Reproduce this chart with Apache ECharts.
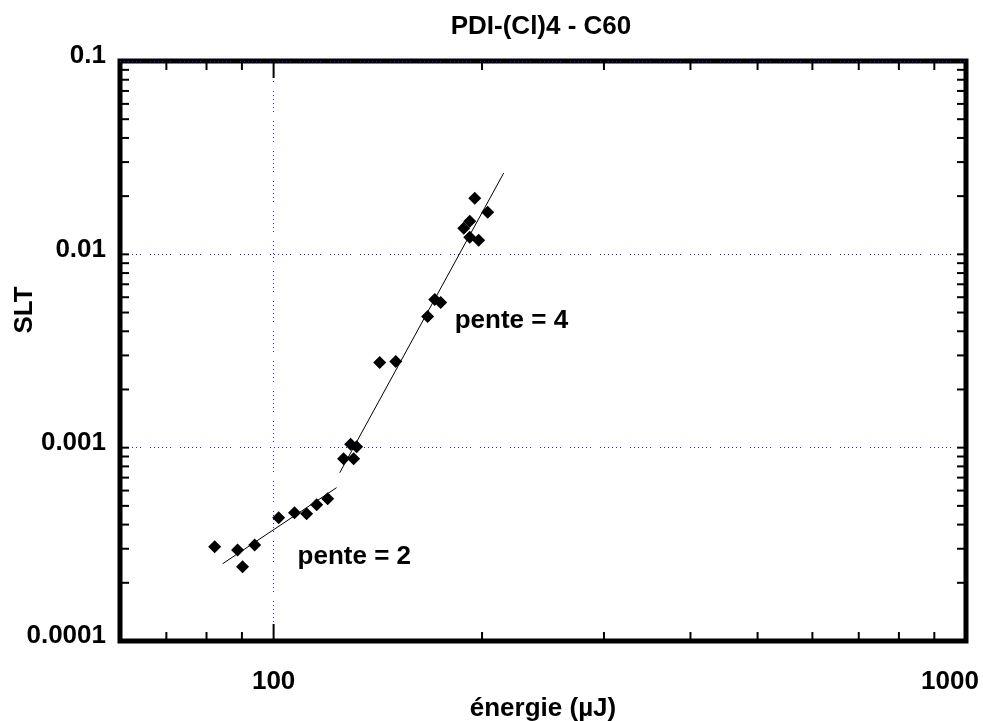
<!DOCTYPE html>
<html>
<head>
<meta charset="utf-8">
<script src="https://cdn.jsdelivr.net/npm/echarts@6/dist/echarts.min.js"></script>
<style>
html,body{margin:0;padding:0;background:#fff;}
#chart{width:983px;height:721px;}
</style>
</head>
<body>
<div id="chart"></div>
<script>
// ---- data ----
const energy = [82.2, 88.7, 90.2, 93.9, 101.7, 107.2, 111.6, 115.4, 119.7, 126.2, 129.2, 130.5, 131.8,
                142.3, 150.1, 166.9, 170.9, 174.3, 188.2, 192.0, 192.0, 197.8, 195.2, 203.8];
const slt = [0.000307, 0.000296, 0.000242, 0.000314, 0.000434, 0.000461, 0.000455, 0.000507, 0.000544, 0.000877, 0.00104, 0.000877, 0.00101,
             0.00276, 0.00279, 0.00477, 0.00584, 0.00564, 0.01364, 0.01483, 0.01225, 0.01182, 0.0195, 0.0165];
const fit2X = [84.4, 123.3];
const fit2Y = [0.000251, 0.000621];
const fit4X = [124.6, 214.9];
const fit4Y = [0.000742, 0.0263];
const annotX = [182.6, 108.3];
const annotY = [0.00455, 0.000271];
const annotText = ['pente = 4', 'pente = 2'];
const xLabelValues = [100, 1000];
const xLabelTexts = ['100', '1000'];
const yLabelValues = [0.0001, 0.001, 0.01, 0.1];
const yLabelTexts = ['0.0001', '0.001', '0.01', '0.1'];
const xMinorTicks = [70, 80, 90, 200, 300, 400, 500, 600, 700, 800, 900];
const xMajorTicks = [100];
const yMinorTicks = [0.0002,0.0003,0.0004,0.0005,0.0006,0.0007,0.0008,0.0009,
                     0.002,0.003,0.004,0.005,0.006,0.007,0.008,0.009,
                     0.02,0.03,0.04,0.05,0.06,0.07,0.08,0.09];
const yMajorTicks = [0.001, 0.01];
const X_MIN = 60, X_MAX = 1000, Y_MIN = 0.0001, Y_MAX = 0.1;
const titleText = 'PDI-(Cl)4 - C60';
const xName = 'énergie (µJ)';
const yName = 'SLT';

// ---- build ----
const FONT = "'Liberation Sans', Arial, sans-serif";
const FS = 26;
const pts = energy.map((e, i) => [e, slt[i]]);
const tickData = [];
xMinorTicks.forEach(v => tickData.push([v, Y_MIN, 0, 0]));
xMajorTicks.forEach(v => tickData.push([v, Y_MIN, 0, 1]));
yMinorTicks.forEach(v => tickData.push([X_MIN, v, 1, 0]));
yMajorTicks.forEach(v => tickData.push([X_MIN, v, 1, 1]));

const dotted = [1, 3, 1, 3, 1, 3, 1, 3, 1, 3, 1, 9];
const gridBlue = '#1f1fff';
const chart = echarts.init(document.getElementById('chart'), null, {renderer: 'canvas'});
const option = {
  backgroundColor: '#fff',
  animation: false,
  title: {
    text: titleText, left: 536, top: 9, textAlign: 'center',
    textStyle: {fontFamily: FONT, fontSize: FS, fontWeight: 'bold', color: '#000'}
  },
  grid: {left: 120, right: 17, top: 61, bottom: 80, show: true, borderColor: '#000', borderWidth: 5,
         backgroundColor: 'transparent', outerBoundsMode: 'none', containLabel: false},
  xAxis: {
    type: 'log', logBase: 10, min: X_MIN, max: X_MAX,
    name: xName, nameLocation: 'middle', nameGap: 55, nameMoveOverlap: false,
    nameTextStyle: {fontFamily: FONT, fontSize: FS, fontWeight: 'bold', color: '#000'},
    axisLine: {show: false}, axisTick: {show: false},
    splitLine: {show: true, showMinLine: false, showMaxLine: false, lineStyle: {color: gridBlue, width: 1, type: dotted}},
    axisLabel: {
      margin: 28, fontFamily: FONT, fontSize: FS, fontWeight: 'bold', color: '#000',
      formatter: v => {
        for (let i = 0; i < xLabelValues.length; i++) {
          if (Math.abs(Math.log10(v) - Math.log10(xLabelValues[i])) < 1e-6) {
            return i === xLabelValues.length - 1 ? '{r|' + xLabelTexts[i] + '}' : xLabelTexts[i];
          }
        }
        return '';
      },
      rich: {r: {fontFamily: FONT, fontSize: FS, fontWeight: 'bold', color: '#000', padding: [0, 32, 0, 0]}}
    }
  },
  yAxis: {
    type: 'log', logBase: 10, min: Y_MIN, max: Y_MAX,
    axisLine: {show: false}, axisTick: {show: false},
    splitLine: {show: true, showMinLine: false, showMaxLine: false, lineStyle: {color: gridBlue, width: 1, type: dotted}},
    axisLabel: {
      margin: 14, fontFamily: FONT, fontSize: FS, fontWeight: 'bold', color: '#000',
      formatter: v => {
        for (let i = 0; i < yLabelValues.length; i++) {
          if (Math.abs(Math.log10(v) - Math.log10(yLabelValues[i])) < 1e-6) return '{a|' + yLabelTexts[i] + '}';
        }
        return '';
      },
      rich: {a: {fontFamily: FONT, fontSize: FS, fontWeight: 'bold', color: '#000', padding: [0, 0, 10, 0]}}
    }
  },
  graphic: [{
    type: 'text', x: 25, y: 310, rotation: Math.PI / 2,
    style: {text: yName, font: 'bold ' + FS + 'px ' + FONT, fill: '#000', align: 'center', verticalAlign: 'middle'}
  }],
  series: [
    {
      type: 'custom', clip: false, silent: true, z: 5,
      encode: {x: 0, y: 1},
      data: tickData,
      renderItem: (params, api) => {
        const kind = api.value(2), major = api.value(3);
        const children = [];
        const st = {stroke: '#000', lineWidth: 2};
        if (kind === 0) {
          const v = api.value(0);
          const pb = api.coord([v, Y_MIN]);
          const pt = api.coord([v, Y_MAX]);
          const L = major ? 17 : 9;
          children.push({type: 'line', shape: {x1: pb[0], y1: pb[1], x2: pb[0], y2: pb[1] - L}, style: st});
          children.push({type: 'line', shape: {x1: pt[0], y1: pt[1], x2: pt[0], y2: pt[1] + L}, style: st});
        } else {
          const v = api.value(1);
          const pl = api.coord([X_MIN, v]);
          const pr = api.coord([X_MAX, v]);
          const L = 9;
          children.push({type: 'line', shape: {x1: pl[0], y1: pl[1], x2: pl[0] + L, y2: pl[1]}, style: st});
          children.push({type: 'line', shape: {x1: pr[0], y1: pr[1], x2: pr[0] - L, y2: pr[1]}, style: st});
        }
        return {type: 'group', children: children};
      }
    },
    {
      type: 'line', data: fit2X.map((x, i) => [x, fit2Y[i]]), symbol: 'none',
      lineStyle: {color: '#000', width: 1}, z: 3
    },
    {
      type: 'line', data: fit4X.map((x, i) => [x, fit4Y[i]]), symbol: 'none',
      lineStyle: {color: '#000', width: 1}, z: 3
    },
    {
      type: 'scatter', data: pts, symbol: 'diamond', symbolSize: 13,
      itemStyle: {color: '#000', opacity: 1}, z: 4
    },
    {
      type: 'scatter', data: annotX.map((x, i) => [x, annotY[i], annotText[i]]), symbolSize: 0,
      itemStyle: {opacity: 1},
      label: {
        show: true, position: 'right', distance: 0, formatter: p => p.value[2],
        fontFamily: FONT, fontSize: FS, fontWeight: 'bold', color: '#000', opacity: 1
      },
      z: 4
    }
  ]
};
chart.setOption(option);
</script>
</body>
</html>
